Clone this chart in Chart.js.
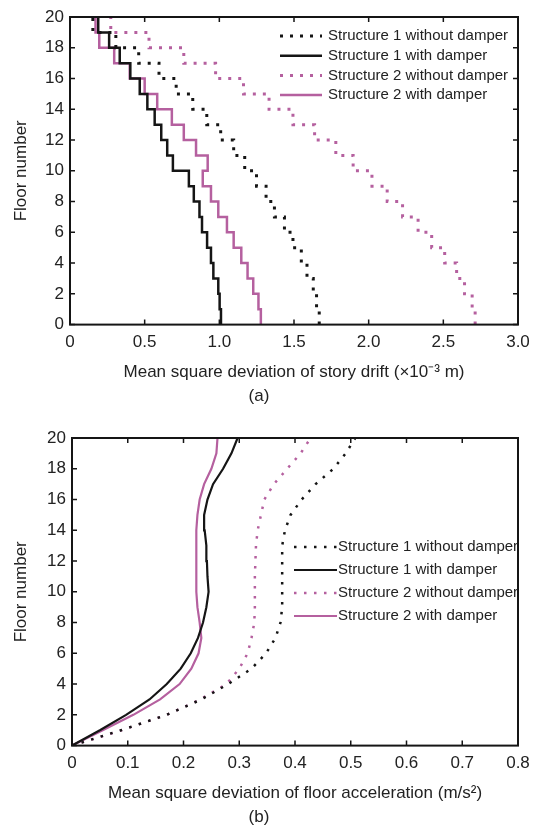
<!DOCTYPE html>
<html lang="en">
<head>
<meta charset="UTF-8" />
<title>Mean square deviation of story drift and floor acceleration</title>
<script src="https://cdn.jsdelivr.net/npm/chart.js"></script>
<style>
  html, body { margin: 0; padding: 0; background: #fff; }
  body { width: 540px; height: 832px; overflow: hidden; }
  canvas { display: block; }
</style>
</head>
<body>
<canvas id="driftChart" width="540" height="410"></canvas>
<canvas id="accChart" width="540" height="422"></canvas>

<script>
// floors 0..20
const floors = [0, 1, 2, 3, 4, 5, 6, 7, 8, 9, 10, 11, 12, 13, 14, 15, 16, 17, 18, 19, 20];
const seriesLabels = [
  "Structure 1 without damper",
  "Structure 1 with damper",
  "Structure 2 without damper",
  "Structure 2 with damper",
];

// (a) story drift, one value per story (story 1 = floor 0..1), x10^-3 m
const driftS1NoDamper = [1.669, 1.651, 1.629, 1.587, 1.549, 1.493, 1.436, 1.369, 1.313, 1.249,
                         1.17, 1.096, 1.009, 0.916, 0.822, 0.711, 0.596, 0.46, 0.307, 0.153];
const driftS1Damper   = [1.011, 1.002, 0.993, 0.96, 0.944, 0.918, 0.884, 0.867, 0.829, 0.796,
                         0.689, 0.651, 0.611, 0.567, 0.518, 0.467, 0.404, 0.333, 0.262, 0.189];
const driftS2NoDamper = [2.713, 2.693, 2.642, 2.589, 2.509, 2.422, 2.331, 2.227, 2.124, 2.022,
                         1.896, 1.78, 1.638, 1.493, 1.333, 1.162, 0.975, 0.762, 0.529, 0.273];
const driftS2Damper   = [1.278, 1.262, 1.227, 1.189, 1.147, 1.096, 1.051, 0.993, 0.944, 0.889,
                         0.922, 0.844, 0.762, 0.682, 0.584, 0.5, 0.4, 0.296, 0.196, 0.171];

// (b) floor acceleration, one value per floor 0..20, m/s^2
const accS1NoDamper = [0, 0.088, 0.17, 0.232, 0.28, 0.322, 0.348, 0.365, 0.374, 0.377, 0.377,
                       0.377, 0.377, 0.377, 0.382, 0.392, 0.412, 0.437, 0.469, 0.491, 0.508];
const accS1Damper   = [0, 0.05, 0.097, 0.139, 0.17, 0.195, 0.213, 0.226, 0.235, 0.241, 0.245,
                       0.243, 0.242, 0.241, 0.238, 0.237, 0.243, 0.253, 0.271, 0.286, 0.297];
const accS2NoDamper = [0, 0.089, 0.17, 0.23, 0.277, 0.3, 0.315, 0.322, 0.327, 0.328, 0.328,
                       0.328, 0.329, 0.33, 0.333, 0.339, 0.345, 0.362, 0.386, 0.41, 0.428];
const accS2Damper   = [0, 0.055, 0.11, 0.158, 0.193, 0.214, 0.227, 0.232, 0.229, 0.225, 0.223,
                       0.223, 0.223, 0.223, 0.223, 0.225, 0.229, 0.237, 0.25, 0.259, 0.261];

const driftTicks = ["0", "0.5", "1.0", "1.5", "2.0", "2.5", "3.0"];
const accTicks = ["0", "0.1", "0.2", "0.3", "0.4", "0.5", "0.6", "0.7", "0.8"];
const floorTicks = ["0", "2", "4", "6", "8", "10", "12", "14", "16", "18", "20"];

const BLACK = "#151515";
const PINK = "#b5609f";
const TEXT = "#222";

Chart.defaults.font.family = "'Liberation Sans', Arial, Helvetica, sans-serif";
Chart.defaults.color = TEXT;

// stairs: value of story i held from floor i-1 to floor i
function stairPoints(values) {
  const pts = values.map((v, i) => ({ x: v, y: floors[i] }));
  pts.push({ x: values[values.length - 1], y: floors[values.length] });
  return pts;
}
function floorPoints(values) {
  return values.map((v, i) => ({ x: v, y: floors[i] }));
}

// matlab style box with inward ticks
const frameTicks = {
  id: "frameTicks",
  afterDatasetsDraw(chart, args, opts) {
    const { ctx, chartArea: a, scales: { x, y } } = chart;
    const len = 5;
    ctx.save();
    ctx.strokeStyle = BLACK;
    ctx.lineWidth = 1.5;
    ctx.beginPath();
    x.ticks.forEach((t) => {
      const px = x.getPixelForValue(t.value);
      ctx.moveTo(px, a.bottom); ctx.lineTo(px, a.bottom - len);
      ctx.moveTo(px, a.top); ctx.lineTo(px, a.top + len);
    });
    y.ticks.forEach((t) => {
      const py = y.getPixelForValue(t.value);
      ctx.moveTo(a.left, py); ctx.lineTo(a.left + len, py);
      if (opts.rightTicks) { ctx.moveTo(a.right, py); ctx.lineTo(a.right - len, py); }
    });
    ctx.stroke();
    ctx.lineWidth = 2;
    ctx.strokeRect(a.left, a.top, a.right - a.left, a.bottom - a.top);
    ctx.restore();
  },
};

// legend drawn inside the plot box
const insideLegend = {
  id: "insideLegend",
  afterDraw(chart, args, opts) {
    const ctx = chart.ctx;
    ctx.save();
    ctx.font = opts.font;
    ctx.textBaseline = "middle";
    ctx.fillStyle = TEXT;
    chart.data.datasets.forEach((ds, i) => {
      const yy = opts.y + i * opts.rowH;
      ctx.strokeStyle = ds.borderColor;
      ctx.lineWidth = ds.borderWidth;
      ctx.setLineDash(ds.borderDash || []);
      ctx.beginPath();
      ctx.moveTo(opts.x, yy);
      ctx.lineTo(opts.x + opts.lineLen, yy);
      ctx.stroke();
      ctx.setLineDash([]);
      ctx.fillText(ds.label, opts.x + opts.lineLen + opts.gap, yy);
    });
    ctx.restore();
  },
};

function makeScales(xMax, xStep, xLabels, xTitle, yWidth) {
  return {
    x: {
      type: "linear", min: 0, max: xMax,
      ticks: { stepSize: xStep, callback: (v, i) => xLabels[i], font: { size: 17 }, padding: 8 },
      grid: { display: false, drawTicks: false },
      border: { display: false },
      title: { display: true, text: xTitle, font: { size: 17 }, padding: { top: 0, bottom: 4 } },
      afterFit: (s) => { s.height = 62; },
    },
    y: {
      type: "linear", min: 0, max: 20,
      ticks: { stepSize: 2, callback: (v, i) => floorTicks[i], font: { size: 17 }, padding: 6 },
      grid: { display: false, drawTicks: false },
      border: { display: false },
      title: { display: true, text: "Floor number", font: { size: 17 }, padding: { top: 11 } },
      afterFit: (s) => { s.width = yWidth; },
    },
  };
}

// (a) story drift
new Chart(document.getElementById("driftChart"), {
  type: "scatter",
  data: {
    datasets: [
      { label: seriesLabels[0], data: stairPoints(driftS1NoDamper), borderColor: BLACK, borderWidth: 3, borderDash: [3, 7] },
      { label: seriesLabels[1], data: stairPoints(driftS1Damper), borderColor: BLACK, borderWidth: 2.5 },
      { label: seriesLabels[2], data: stairPoints(driftS2NoDamper), borderColor: PINK, borderWidth: 3, borderDash: [3, 7] },
      { label: seriesLabels[3], data: stairPoints(driftS2Damper), borderColor: PINK, borderWidth: 2.5 },
    ].map((d) => ({ ...d, showLine: true, stepped: "after", pointRadius: 0, fill: false })),
  },
  options: {
    responsive: false,
    animation: false,
    layout: { padding: { top: 17, right: 22, left: 0, bottom: 0 } },
    scales: makeScales(3, 0.5, driftTicks, "Mean square deviation of story drift (×10⁻³ m)", 70),
    plugins: {
      legend: { display: false },
      tooltip: { enabled: false },
      title: { display: true, text: "(a)", position: "bottom", font: { size: 17, weight: "normal" }, color: TEXT, padding: { top: 0, bottom: 3 } },
      frameTicks: { rightTicks: true },
      insideLegend: { x: 280, y: 36, rowH: 19.7, lineLen: 42, gap: 6, font: "15px 'Liberation Sans', Arial, sans-serif" },
    },
  },
  plugins: [frameTicks, insideLegend],
});

// (b) floor acceleration
new Chart(document.getElementById("accChart"), {
  type: "scatter",
  data: {
    datasets: [
      { label: seriesLabels[0], data: floorPoints(accS1NoDamper), borderColor: BLACK, borderWidth: 2.5, borderDash: [2.5, 7.5] },
      { label: seriesLabels[1], data: floorPoints(accS1Damper), borderColor: BLACK, borderWidth: 2.2 },
      { label: seriesLabels[2], data: floorPoints(accS2NoDamper), borderColor: PINK, borderWidth: 2.5, borderDash: [2.5, 7.5] },
      { label: seriesLabels[3], data: floorPoints(accS2Damper), borderColor: PINK, borderWidth: 2.2 },
    ].map((d) => ({ ...d, showLine: true, pointRadius: 0, fill: false })),
  },
  options: {
    responsive: false,
    animation: false,
    layout: { padding: { top: 28, right: 22, left: 0, bottom: 0 } },
    scales: makeScales(0.8, 0.1, accTicks, "Mean square deviation of floor acceleration (m/s²)", 72),
    plugins: {
      legend: { display: false },
      tooltip: { enabled: false },
      title: { display: true, text: "(b)", position: "bottom", font: { size: 17, weight: "normal" }, color: TEXT, padding: { top: 0, bottom: 4 } },
      frameTicks: { rightTicks: false },
      insideLegend: { x: 294, y: 137, rowH: 23, lineLen: 43, gap: 1, font: "15px 'Liberation Sans', Arial, sans-serif" },
    },
  },
  plugins: [frameTicks, insideLegend],
});
</script>
</body>
</html>
